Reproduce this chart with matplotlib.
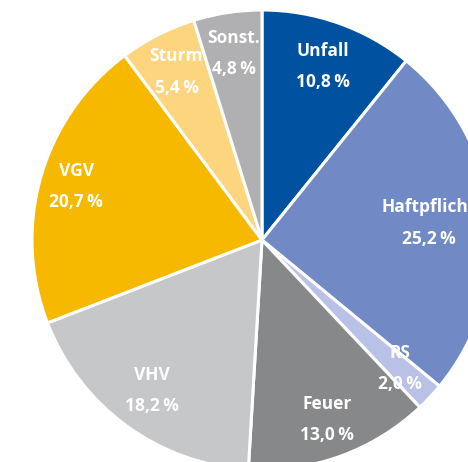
import numpy as np
import matplotlib
matplotlib.use("Agg")
import matplotlib.pyplot as plt

# Anteile der Sparten (in %), im Uhrzeigersinn ab 12 Uhr
sparten = ["Unfall", "Haftpflicht", "RS", "Feuer", "VHV", "VGV", "Sturm", "Sonst."]
anteile = [10.8, 25.2, 2.0, 13.0, 18.2, 20.7, 5.4, 4.8]
prozent = ["10,8", "25,2", "2,0", "13,0", "18,2", "20,7", "5,4", "4,8"]
farben = ["#0052a0", "#7189c4", "#b9c1e6", "#878889",
          "#c6c7c9", "#f7b900", "#fdd57e", "#b0b0b2"]
label_abstand = [0.80, 0.73, 0.82, 0.83, 0.81, 0.84, 0.82, 0.82]

plt.rcParams['font.family'] = ['Open Sans', 'DejaVu Sans']

fig = plt.figure(figsize=(4.68, 4.62), dpi=100)
ax = fig.add_axes([0, 0, 1, 1])

zentrum = (262, 222)
radius = 230
wedges, _ = ax.pie(anteile, colors=farben, startangle=90, counterclock=False,
                   center=zentrum, radius=radius,
                   wedgeprops=dict(edgecolor='white', linewidth=2.2))
ax.set_xlim(0, 468)
ax.set_ylim(0, 462)
ax.set_aspect('equal')
ax.axis('off')

for w, name, p, d in zip(wedges, sparten, prozent, label_abstand):
    winkel = np.deg2rad((w.theta1 + w.theta2) / 2)
    x = zentrum[0] + d * radius * np.cos(winkel)
    y = zentrum[1] + d * radius * np.sin(winkel)
    ax.text(x, y, f"{name}\n{p}\u2009%", ha='center', va='center', color='white',
            fontsize=12.5, fontweight='bold', linespacing=1.95)

fig.savefig("out.png", dpi=100)
